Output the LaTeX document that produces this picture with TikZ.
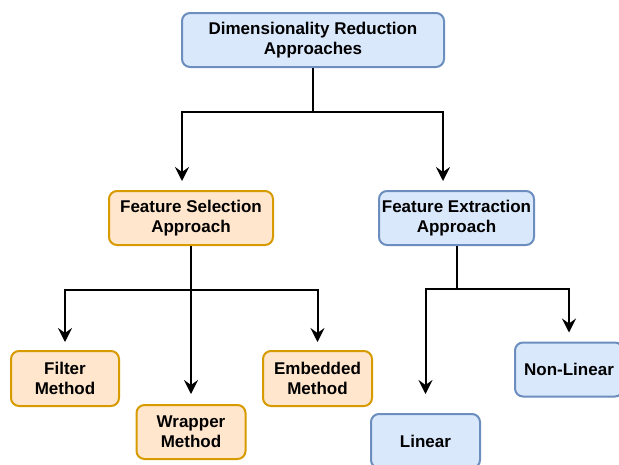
\documentclass[tikz,border=0pt]{standalone}
\usepackage{fontspec}
\setmainfont{Liberation Sans}
\usetikzlibrary{arrows.meta}
\definecolor{blueFill}{HTML}{DAE8FC}
\definecolor{blueLine}{HTML}{6C8EBF}
\definecolor{orangeFill}{HTML}{FFE6CC}
\definecolor{orangeLine}{HTML}{D79B00}
\tikzset{
  blue box/.style={
    rectangle, rounded corners=8pt, draw=blueLine, fill=blueFill, line width=2pt,
    align=center, inner sep=0pt, font=\fontsize{17}{20}\selectfont\bfseries
  },
  orange box/.style={
    rectangle, rounded corners=8pt, draw=orangeLine, fill=orangeFill, line width=2pt,
    align=center, inner sep=0pt, font=\fontsize{17}{20}\selectfont\bfseries
  },
  link/.style={
    draw=black, line width=2pt
  },
  link arrow/.style={
    draw=black, line width=2pt, -{Stealth[length=14pt, width=14pt, inset=5pt]}
  }
}

\begin{document}
\begin{tikzpicture}[x=1pt, y=-1pt]
\useasboundingbox (0,0) rectangle (619,464);

% ------------------------------------------------
% top: root node
% ------------------------------------------------
\node[blue box, minimum width=262pt, minimum height=54pt] (root) at (313,40)
  {Dimensionality Reduction\\Approaches};
\coordinate (rootBus) at (313,112);

% ------------------------------------------------
% second row: the two approaches
% ------------------------------------------------
\node[orange box, minimum width=164pt, minimum height=54pt] (sel) at (191,218)
  {Feature Selection\\Approach};
\node[blue box, minimum width=155pt, minimum height=54pt] (ext) at (456.5,218)
  {Feature Extraction\\Approach};
\coordinate (selBus) at (191,290);
\coordinate (extBus) at (456.5,289);

% ------------------------------------------------
% third row: selection methods
% ------------------------------------------------
\node[orange box, minimum width=108pt, minimum height=55pt] (filter) at (65,378.5)
  {Filter\\Method};
\node[orange box, minimum width=109pt, minimum height=54pt] (wrapper) at (191,432)
  {Wrapper\\Method};
\node[orange box, minimum width=109pt, minimum height=55pt] (embed) at (317.5,378.5)
  {Embedded\\Method};

% ------------------------------------------------
% third row: extraction methods
% ------------------------------------------------
\node[blue box, minimum width=108pt, minimum height=54pt] (nonlin) at (569,369.5)
  {Non-Linear};
\node[blue box, minimum width=109pt, minimum height=54pt] (lin) at (425.5,441)
  {Linear};

% ------------------------------------------------
% connectors
% ------------------------------------------------
\draw[link] (root.south) -- (rootBus);
\draw[link arrow, shorten >=9pt] (rootBus) -| ([xshift=-9pt]sel.north);
\draw[link arrow, shorten >=9pt] (rootBus) -| ([xshift=-13.5pt]ext.north);

\draw[link] (sel.south) -- (selBus);
\draw[link arrow, shorten >=8pt] (selBus) -| (filter.north);
\draw[link arrow, shorten >=10pt] (selBus) -- (wrapper.north);
\draw[link arrow, shorten >=8pt] (selBus) -| (embed.north);

\draw[link] (ext.south) -- (extBus);
\draw[link arrow, shorten >=19pt] (extBus) -| (lin.north);
\draw[link arrow, shorten >=9pt] (extBus) -| (nonlin.north);
\end{tikzpicture}
\end{document}
